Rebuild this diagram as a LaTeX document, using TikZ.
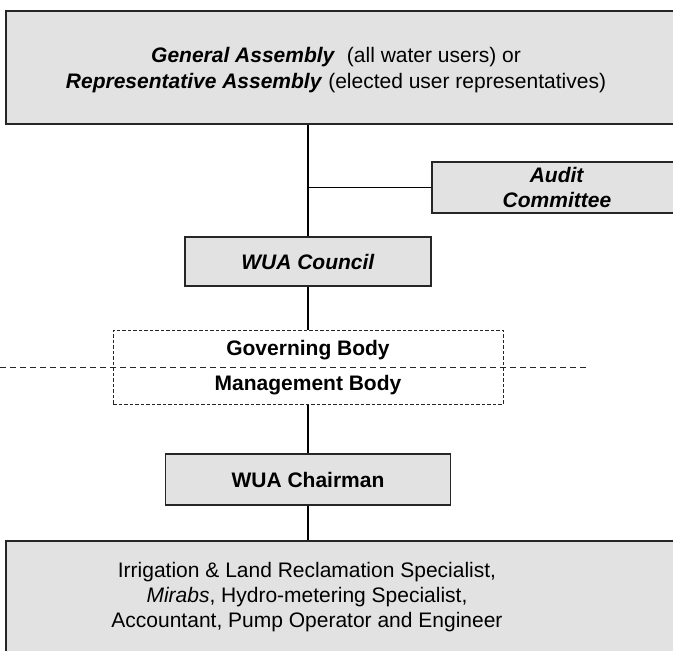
\documentclass[tikz,border=0pt]{standalone}
\usepackage{fontspec}
\setmainfont{Liberation Sans}
\definecolor{boxgray}{RGB}{226,226,226}
\begin{document}
\begin{tikzpicture}[x=1pt,y=-1pt,
  box/.style={draw=black!85, fill=boxgray, line width=1.3pt, inner sep=0pt},
  dbox/.style={draw=black!85, dash pattern=on 3.5pt off 2pt, line width=1pt, inner sep=0pt},
  dline/.style={draw=black!85, dash pattern=on 6pt off 4pt, line width=1pt},
  txt/.style={align=center, inner sep=0pt, font=\fontsize{21}{25.5}\selectfont},
  conn/.style={draw=black, line width=1.2pt}]
\useasboundingbox (0,0) rectangle (673,651);
\begin{scope}
\clip (0,0) rectangle (673,651);
% top assembly box
\node[box, minimum width=694pt, minimum height=113pt] (ga) at (353,67.5) {};
\node[txt] (gatext) at (336,70) {\textbf{\textit{General Assembly}}\ \ (all water users) or\\\textbf{\textit{Representative Assembly}} (elected user representatives)};
% council
\node[box, minimum width=246pt, minimum height=49pt] (council) at (308,261.5) {};
\node[txt] at (council.center) {\textbf{\textit{WUA Council}}};
% audit
\node[box, minimum width=250pt, minimum height=51pt] (audit) at (557,187.5) {};
\node[txt, font=\fontsize{21}{25}\selectfont] at (audit.center) {\textbf{\textit{Audit}}\\\textbf{\textit{Committee}}};
% governing / management
\node[dbox, minimum width=390pt, minimum height=74pt] (gm) at (308,367) {};
\node[txt] (gov) at (308,350) {\textbf{Governing Body}};
\node[txt] (man) at (308,385) {\textbf{Management Body}};
\coordinate (dl) at (0,367);
\coordinate (dr) at (588,367);
\draw[dline] (dl) -- (dr);
% chairman
\node[box, minimum width=285pt, minimum height=51pt] (chair) at (308,479.5) {};
\node[txt] at (chair.center) {\textbf{WUA Chairman}};
% staff
\node[box, minimum width=694pt, minimum height=140pt] (staff) at (353,611) {};
\node[txt, font=\fontsize{21}{25}\selectfont] (stafftext) at (307,597) {Irrigation \& Land Reclamation Specialist,\\\textit{Mirabs}, Hydro-metering Specialist,\\Accountant, Pump Operator and Engineer};
% connectors
\draw[conn] (council.north) -- (council.north |- ga.south);
\draw[conn] (audit.west) -- (audit.west -| council.north);
\draw[conn] (council.south) -- (gm.north);
\draw[conn] (gm.south) -- (chair.north);
\draw[conn] (chair.south) -- (chair.south |- staff.north);
\end{scope}
\end{tikzpicture}
\end{document}
